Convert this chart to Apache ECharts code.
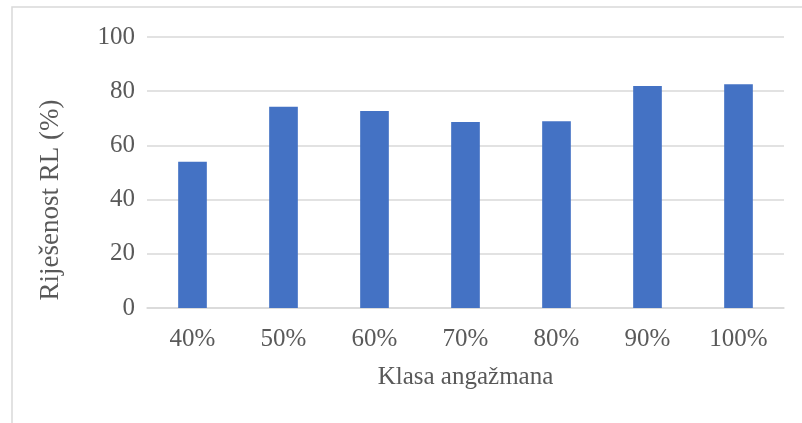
<!DOCTYPE html>
<html>
<head>
<meta charset="utf-8">
<script src="https://cdn.jsdelivr.net/npm/echarts@6/dist/echarts.min.js"></script>
<style>html,body{margin:0;padding:0;background:#fff;}#c{width:802px;height:423px;}</style>
</head>
<body>
<div id="c"></div>
<script>
const categories = ['40%', '50%', '60%', '70%', '80%', '90%', '100%'];
const values = [54.0, 74.3, 72.7, 68.6, 68.9, 81.9, 82.6];
const yTicks = [0, 20, 40, 60, 80, 100];
const xTitle = 'Klasa angažmana';
const yTitle = 'Riješenost RL (%)';

const chart = echarts.init(document.getElementById('c'), null, {renderer: 'canvas'});
const font = '"Liberation Serif", "Times New Roman", serif';
chart.setOption({
  animation: false,
  backgroundColor: '#fff',
  graphic: [
    {type: 'rect', x: 12, y: 7, shape: {width: 900, height: 600}, style: {fill: 'none', stroke: '#d9d9d9', lineWidth: 1.5}, silent: true},
    {type: 'text', x: 51, y: 200, rotation: Math.PI / 2, style: {text: yTitle, font: '27px ' + font, fill: '#595959', align: 'center', verticalAlign: 'middle'}}
  ],
  grid: {left: 147, right: 18, top: 37, bottom: 115, containLabel: false},
  xAxis: {
    type: 'category',
    data: categories,
    axisTick: {show: false},
    axisLine: {lineStyle: {color: '#d9d9d9', width: 1.5}},
    axisLabel: {color: '#595959', fontFamily: font, fontSize: 25, margin: 19},
    name: xTitle,
    nameLocation: 'middle',
    nameGap: 57,
    nameTextStyle: {color: '#595959', fontFamily: font, fontSize: 25}
  },
  yAxis: {
    type: 'value',
    min: yTicks[0],
    max: yTicks[yTicks.length - 1],
    interval: 20,
    axisLine: {show: false},
    axisTick: {show: false},
    splitLine: {lineStyle: {color: '#d9d9d9', width: 1.5}},
    axisLabel: {color: '#595959', fontFamily: font, fontSize: 25, margin: 12}
  },
  series: [{
    type: 'bar',
    data: values,
    barWidth: '31.5%',
    itemStyle: {color: '#4472C4'}
  }]
});
</script>
</body>
</html>
